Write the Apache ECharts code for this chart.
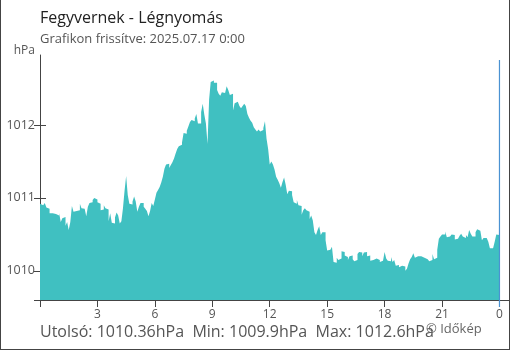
<!DOCTYPE html>
<html>
<head>
<meta charset="utf-8">
<script src="https://cdn.jsdelivr.net/npm/echarts@6.0.0/dist/echarts.min.js"></script>
<style>
  html, body { margin: 0; padding: 0; background: #fff; }
  #wrap { position: relative; width: 510px; height: 350px; }
  #chart { width: 510px; height: 350px; }
  #frame {
    position: absolute; left: 0; top: 0; width: 510px; height: 350px;
    box-sizing: border-box; border: 1px solid #444; border-top: none;
    pointer-events: none;
  }
</style>
</head>
<body>
<div id="wrap">
  <div id="chart"></div>
  <div id="frame"></div>
</div>
<script>
// 5 perces légnyomás adatok (hPa), 0:00-tól 24:00-ig
const pressure = [
  1010.92, 1010.90, 1010.90, 1010.93, 1010.87, 1010.85, 1010.79, 1010.79, 1010.77, 1010.78,
  1010.77, 1010.76, 1010.79, 1010.67, 1010.72, 1010.74, 1010.62, 1010.67, 1010.56, 1010.67,
  1010.89, 1010.81, 1010.82, 1010.81, 1010.83, 1010.92, 1010.86, 1010.85, 1010.86, 1010.75,
  1010.88, 1010.93, 1010.94, 1010.97, 1011.00, 1010.98, 1010.94, 1010.92, 1010.83, 1010.84,
  1010.90, 1010.86, 1010.84, 1010.68, 1010.79, 1010.66, 1010.65, 1010.73, 1010.80,
  1010.76, 1010.65, 1010.68, 1010.86, 1011.10, 1011.30, 1011.04, 1010.92, 1010.91, 1010.95,
  1011.02, 1010.95, 1010.81, 1010.88, 1010.93, 1010.93, 1010.88, 1010.85, 1010.82, 1010.75,
  1010.82, 1010.93, 1010.89, 1010.98, 1011.07, 1011.11, 1011.15, 1011.21, 1011.29, 1011.40,
  1011.46, 1011.47, 1011.41, 1011.45, 1011.49, 1011.54, 1011.61, 1011.67, 1011.71, 1011.73,
  1011.76, 1011.89, 1011.88,
  1011.92, 1011.98, 1012.04, 1012.07, 1012.05,
  1012.09, 1012.15, 1012.02, 1012.02, 1012.18, 1012.29, 1012.14, 1012.02, 1011.74, 1012.35,
  1012.59, 1012.61, 1012.58, 1012.58, 1012.48, 1012.43, 1012.40, 1012.45, 1012.44, 1012.44,
  1012.53, 1012.48, 1012.41, 1012.43, 1012.20, 1012.30, 1012.32, 1012.30, 1012.26, 1012.23,
  1012.26, 1012.29, 1012.26, 1012.15, 1012.10, 1012.06, 1012.03, 1011.97, 1011.94, 1011.91,
  1011.94, 1011.91, 1011.93, 1011.96, 1012.05, 1011.81, 1011.67, 1011.46, 1011.50, 1011.46,
  1011.39, 1011.29, 1011.25, 1011.20, 1011.14, 1011.22, 1011.28, 1011.18, 1011.05, 1011.10,
  1011.09, 1011.04, 1010.94, 1010.92, 1010.97, 1010.90, 1010.89, 1010.77, 1010.83, 1010.86,
  1010.83, 1010.81, 1010.71, 1010.76, 1010.69, 1010.53, 1010.49, 1010.56, 1010.61, 1010.49,
  1010.53, 1010.53, 1010.42, 1010.28, 1010.29, 1010.31, 1010.33, 1010.12, 1010.11, 1010.18,
  1010.15, 1010.17, 1010.27, 1010.26, 1010.21, 1010.19, 1010.15, 1010.20,
  1010.21, 1010.16, 1010.13, 1010.15, 1010.23, 1010.26, 1010.25, 1010.20, 1010.25, 1010.26,
  1010.20, 1010.21, 1010.14, 1010.15, 1010.17, 1010.17, 1010.19, 1010.15, 1010.12, 1010.14,
  1010.12, 1010.26, 1010.17, 1010.14, 1010.13, 1010.19, 1010.12, 1010.15, 1010.07, 1010.08,
  1010.05, 1010.07, 1010.08, 1010.06, 1010.00, 1010.03, 1010.10, 1010.16, 1010.19, 1010.24,
  1010.18, 1010.20, 1010.19, 1010.20, 1010.21, 1010.18, 1010.18, 1010.16, 1010.18,
  1010.13, 1010.15, 1010.23, 1010.16, 1010.18, 1010.29, 1010.44, 1010.47, 1010.50, 1010.50,
  1010.54, 1010.46, 1010.47, 1010.48, 1010.50, 1010.49, 1010.43, 1010.44, 1010.43, 1010.48,
  1010.51, 1010.47, 1010.45, 1010.49, 1010.46, 1010.56, 1010.51, 1010.47, 1010.47, 1010.53,
  1010.57, 1010.55, 1010.53, 1010.42, 1010.45, 1010.45, 1010.43, 1010.40, 1010.31, 1010.31,
  1010.30, 1010.40, 1010.50, 1010.49
];
const stepHours = 5 / 60;

const xTickHours = [0, 3, 6, 9, 12, 15, 18, 21, 24];
const xLabelHours = [3, 6, 9, 12, 15, 18, 21, 24];
const nowHour = 24;

const yMin = 1009.6;
const yMax = 1012.96;
const yLabelValues = [1010, 1011, 1012];
const yOuterTicks = [1009.6, 1010, 1011, 1012];

const titleText = 'Fegyvernek - Légnyomás';
const subText = 'Grafikon frissítve: 2025.07.17 0:00';
const statsText = 'Utolsó: 1010.36hPa  Min: 1009.9hPa  Max: 1012.6hPa';
const creditText = '© Időkép';

const FONT = '"Open Sans", "Noto Sans", sans-serif';
const AXIS = '#444';

const areaData = pressure.map((v, i) => [i * stepHours, v]);
// a lépcsős terület lezárása az utolsó mérés végén
areaData.push([pressure.length * stepHours, pressure[pressure.length - 1]]);

const myChart = echarts.init(document.getElementById('chart'), null, { renderer: 'canvas' });
myChart.setOption({
  animation: false,
  textStyle: { fontFamily: FONT },
  title: [
    { text: titleText, left: 40, top: 10, padding: 0,
      textStyle: { fontSize: 16, fontWeight: 'normal', color: '#222', fontFamily: FONT } },
    { text: subText, left: 40, top: 33, padding: 0,
      textStyle: { fontSize: 13, fontWeight: 'normal', color: '#555', fontFamily: FONT } },
    { text: statsText, left: 40, top: 324, padding: 0,
      textStyle: { fontSize: 16, fontWeight: 'normal', color: '#555', fontFamily: FONT } },
    { text: creditText, left: 426, top: 323, padding: 0,
      textStyle: { fontSize: 13, fontWeight: 'normal', color: '#666', fontFamily: FONT } },
  ],
  grid: { left: 40, right: 0, top: 55, bottom: 50 },
  xAxis: {
    type: 'value',
    min: 0,
    max: 24.55,
    axisLine: { show: true, lineStyle: { color: AXIS, width: 1 } },
    axisTick: { show: true, customValues: xTickHours, length: 7, lineStyle: { color: AXIS } },
    axisLabel: {
      customValues: xLabelHours,
      formatter: v => String(v % 24),
      color: '#555',
      fontSize: 12,
      margin: 9,
      fontFamily: FONT,
    },
    splitLine: { show: false },
  },
  yAxis: [
    {
      type: 'value',
      position: 'left',
      min: yMin,
      max: yMax,
      name: 'hPa',
      nameLocation: 'end',
      nameGap: 4,
      nameTextStyle: { color: '#555', fontSize: 12, align: 'right', verticalAlign: 'middle',
        padding: [0, 5, 0, 0], fontFamily: FONT },
      axisLine: { show: true, lineStyle: { color: AXIS, width: 1 } },
      axisTick: { show: true, customValues: yOuterTicks, length: 6, lineStyle: { color: AXIS } },
      axisLabel: {
        customValues: yLabelValues,
        formatter: v => String(v),
        color: '#555',
        fontSize: 12.5,
        margin: 5,
        fontFamily: FONT,
      },
      splitLine: { show: false },
    },
    {
      type: 'value',
      position: 'left',
      min: yMin,
      max: yMax,
      axisLine: { show: false },
      axisTick: { show: true, inside: true, customValues: yLabelValues, length: 6, lineStyle: { color: AXIS } },
      axisLabel: { show: false },
      splitLine: { show: false },
    },
  ],
  series: [
    {
      name: 'Légnyomás',
      type: 'line',
      step: 'end',
      symbol: 'none',
      data: areaData,
      lineStyle: { width: 0, color: '#40c0c1' },
      areaStyle: { color: '#40c0c1', opacity: 1 },
    },
    {
      name: 'most',
      type: 'custom',
      clip: false,
      z: 5,
      data: [[nowHour]],
      renderItem: (params, api) => {
        const top = api.coord([nowHour, yMax]);
        const bottom = api.coord([nowHour, yMin]);
        return {
          type: 'line',
          shape: { x1: top[0], y1: top[1] + 5, x2: bottom[0], y2: bottom[1] + 7 },
          style: { stroke: '#4a92d2', lineWidth: 1.2 },
        };
      },
    },
  ],
});
</script>
</body>
</html>
